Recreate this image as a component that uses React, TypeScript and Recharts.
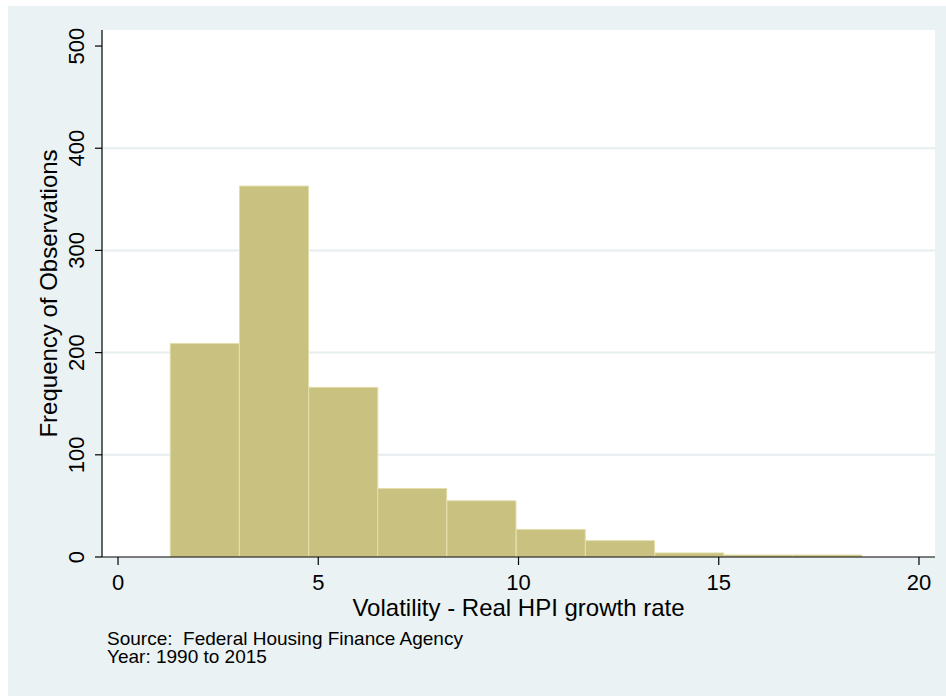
import { Bar, CartesianGrid, ComposedChart, Label, XAxis, YAxis } from "recharts";

// histogram bins: lower edges and a common width (volatility, percent)
const binStarts = [1.3, 3.03, 4.76, 6.48, 8.21, 9.94, 11.67, 13.4, 15.12, 16.85];
const binWidth = 1.728;
const frequencies = [209, 363, 166, 67, 55, 27, 16, 4, 2, 2];

const xTicks = [0, 5, 10, 15, 20];
const yTicks = [0, 100, 200, 300, 400, 500];
const gridValues = [100, 200, 300, 400];

const sourceLines = ["Source:  Federal Housing Finance Agency", "Year: 1990 to 2015"];

const rows = binStarts.map((start, i) => ({ mid: start + binWidth / 2, count: frequencies[i] }));

const FONT = '"Liberation Sans", Arial, Helvetica, sans-serif';
const BG = "#EAF2F3";

const YTick = ({ x, y, payload }: any) => (
  <text x={x} y={y} transform={`rotate(-90 ${x} ${y})`} textAnchor="middle" fontSize={22} fill="#000">
    {payload.value}
  </text>
);

const XTitle = ({ viewBox }: any) => (
  <text x={viewBox.x + viewBox.width / 2} y={viewBox.y + 59.3} textAnchor="middle" fontSize={24} fill="#000">
    Volatility - Real HPI growth rate
  </text>
);

const YTitle = ({ viewBox }: any) => {
  const x = viewBox.x + 15.3;
  const y = viewBox.y + viewBox.height / 2;
  return (
    <text x={x} y={y} transform={`rotate(-90 ${x} ${y})`} textAnchor="middle" fontSize={24} fill="#000">
      Frequency of Observations
    </text>
  );
};

export default function App() {
  return (
    <div
      style={{
        position: "absolute",
        left: 8,
        top: 6,
        width: 938,
        height: 690,
        background: BG,
        fontFamily: FONT,
        overflow: "hidden",
      }}
    >
      <ComposedChart
        width={938}
        height={690}
        data={rows}
        margin={{ top: 24, right: 11, left: 34, bottom: 79 }}
        barCategoryGap={0}
        barGap={0}
      >
        <CartesianGrid
          vertical={false}
          horizontalValues={gridValues}
          stroke="#E6EEF0"
          strokeWidth={2}
          fill="#ffffff"
          fillOpacity={1}
        />
        <XAxis
          dataKey="mid"
          type="number"
          domain={[-0.4, 20.4]}
          ticks={xTicks}
          allowDataOverflow
          height={60}
          tickSize={8}
          tickMargin={9}
          tick={{ fontSize: 22, fill: "#000" }}
          axisLine={{ stroke: "#000", strokeWidth: 1.2 }}
          tickLine={{ stroke: "#000", strokeWidth: 1.2 }}
        >
          <Label content={<XTitle />} />
        </XAxis>
        <YAxis
          type="number"
          domain={[0, 515.7]}
          ticks={yTicks}
          allowDataOverflow
          width={60}
          tickSize={7}
          tickMargin={11}
          tick={<YTick />}
          axisLine={{ stroke: "#000", strokeWidth: 1.2 }}
          tickLine={{ stroke: "#000", strokeWidth: 1.2 }}
        >
          <Label content={<YTitle />} />
        </YAxis>
        <Bar dataKey="count" fill="#C9C17F" stroke="#E2DEAC" strokeWidth={1} isAnimationActive={false} />
      </ComposedChart>
      {/* source note, two lines in one block */}
      <div
        style={{
          position: "absolute",
          left: 99,
          top: 623.8,
          fontSize: 19,
          lineHeight: "18.5px",
          whiteSpace: "pre",
          color: "#000",
        }}
      >
        {sourceLines.join("\n")}
      </div>
    </div>
  );
}
